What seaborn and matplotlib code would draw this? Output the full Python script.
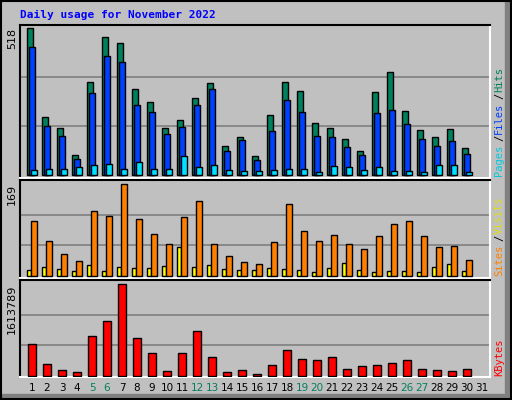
import matplotlib
matplotlib.use("Agg")
import matplotlib.pyplot as plt
import seaborn as sns
import pandas as pd
import numpy as np

days = list(range(1, 32))
hits = [518,203,165,69,327,485,464,302,256,165,193,270,323,101,133,66,210,327,295,182,165,126,84,291,362,224,158,133,161,94,0]
files = [453,174,136,55,288,418,397,246,221,143,168,246,302,84,122,52,154,263,221,136,133,98,69,217,228,179,126,101,119,73,0]
pages = [17,20,20,27,34,38,20,45,20,20,66,27,34,17,13,13,17,20,20,10,31,27,17,27,13,13,10,34,34,10,0]
sites = [11,16,13,9,20,9,16,15,15,18,53,16,20,13,11,11,15,13,11,7,15,24,11,7,9,9,7,16,22,9,0]
visits = [101,64,40,27,119,110,169,104,77,59,108,139,59,37,26,22,62,132,82,64,75,59,49,73,95,101,73,53,55,29,0]
kbytes = [569000,217000,111000,76000,710000,974000,1613789,675000,411000,94000,411000,798000,340000,76000,111000,41000,200000,464000,305000,288000,340000,129000,182000,200000,235000,288000,129000,111000,94000,129000,0]
weekend = [5,6,12,13,19,20,26,27]
title = "Daily usage for November 2022"

sns.set_theme(style="white")
plt.rcParams['font.family'] = ['DejaVu Sans Mono', 'DejaVu Sans']
BG = "#C0C0C0"
fig = plt.figure(figsize=(5.12, 4.0), dpi=100, facecolor=BG)
W, H = 512, 400

def mkax(top, bottom):
    return fig.add_axes([20/W, 1-bottom/H, 470/W, (bottom-top)/H], facecolor=BG)

axs = [mkax(25, 178), mkax(180, 278), mkax(280, 377)]
xlim = (1 - 12/15, 1 - 12/15 + 470/15)

def bars(ax, vals, off, width, color):
    d = pd.DataFrame({"x": [d_ + off for d_ in days], "y": vals})
    d = d[d.y > 0]
    sns.barplot(data=d, x="x", y="y", native_scale=True, width=width, color=color,
                saturation=1, edgecolor="black", linewidth=1, ax=ax, zorder=3)

bars(axs[0], hits, -0.13, 0.4, "#00805C")
bars(axs[0], files, 0.0, 0.4, "#0040FF")
bars(axs[0], pages, 0.13, 0.36, "#00E0FF")
bars(axs[1], sites, -0.2, 0.22, "#FFFF00")
bars(axs[1], visits, 0.1, 0.4, "#FF8000")
bars(axs[2], kbytes, 0.0, 0.5, "#FF0000")

maxes = [518, 169, 1613789]
pads = [(3/147, 3/147), (4/92, 2/92), (4/92, 1/92)]
for ax, m, (pt, pb) in zip(axs, maxes, pads):
    ax.set_xlim(*xlim)
    span = m / (1 - pt - pb)
    ax.set_ylim(-pb*span, m + pt*span)
    for g in (m/3, 2*m/3):
        ax.axhline(g, color="#808080", lw=1.2, zorder=1)
    ax.set_xticks([]); ax.set_yticks([])
    ax.set_xlabel(""); ax.set_ylabel("")
    for s in ("left", "top"):
        ax.spines[s].set_color("black"); ax.spines[s].set_linewidth(1.5)
    for s in ("right", "bottom"):
        ax.spines[s].set_color("white"); ax.spines[s].set_linewidth(1.5)
    ax.text(-8/470, 1 - pt, str(m), transform=ax.transAxes, rotation=90,
            ha="center", va="top", fontsize=8, color="black", family="DejaVu Sans")

for d_ in days:
    fig.text((20 + (d_ - xlim[0]) * 15) / W, 1 - 388/H, str(d_), ha="center", va="center",
             fontsize=7.5, color="#00805C" if d_ in weekend else "black", family="DejaVu Sans")

fig.text(20/W, 1 - 15/H, title, color="#0000FF", fontsize=8, weight="bold", va="center")

def vlabel(ybot, parts):
    y = ybot
    for txt, col in parts:
        fig.text(499/W, y/H, txt, rotation=90, color=col, fontsize=7.5, ha="center", va="bottom")
        y += len(txt) * 7.0
vlabel(400-176, [("Pages", "#00C8E0"), ("/", "black"), ("Files", "#0040FF"), ("/", "black"), ("Hits", "#00805C")])
vlabel(400-276, [("Sites", "#FF8000"), ("/", "black"), ("Visits", "#E0E000")])
vlabel(400-376, [("KBytes", "#FF0000")])

fig.add_artist(plt.Rectangle((1/W, 1/H), 1-2/W, 1-2/H, fill=False, edgecolor="black", lw=1.5, transform=fig.transFigure))
fig.add_artist(plt.Rectangle((505/W, 0), 7/W, 1, color="#808080", transform=fig.transFigure, zorder=-1))
fig.add_artist(plt.Rectangle((0, 0), 1, 6/H, color="#808080", transform=fig.transFigure, zorder=-1))

fig.savefig("out.png", dpi=100, facecolor=BG)
